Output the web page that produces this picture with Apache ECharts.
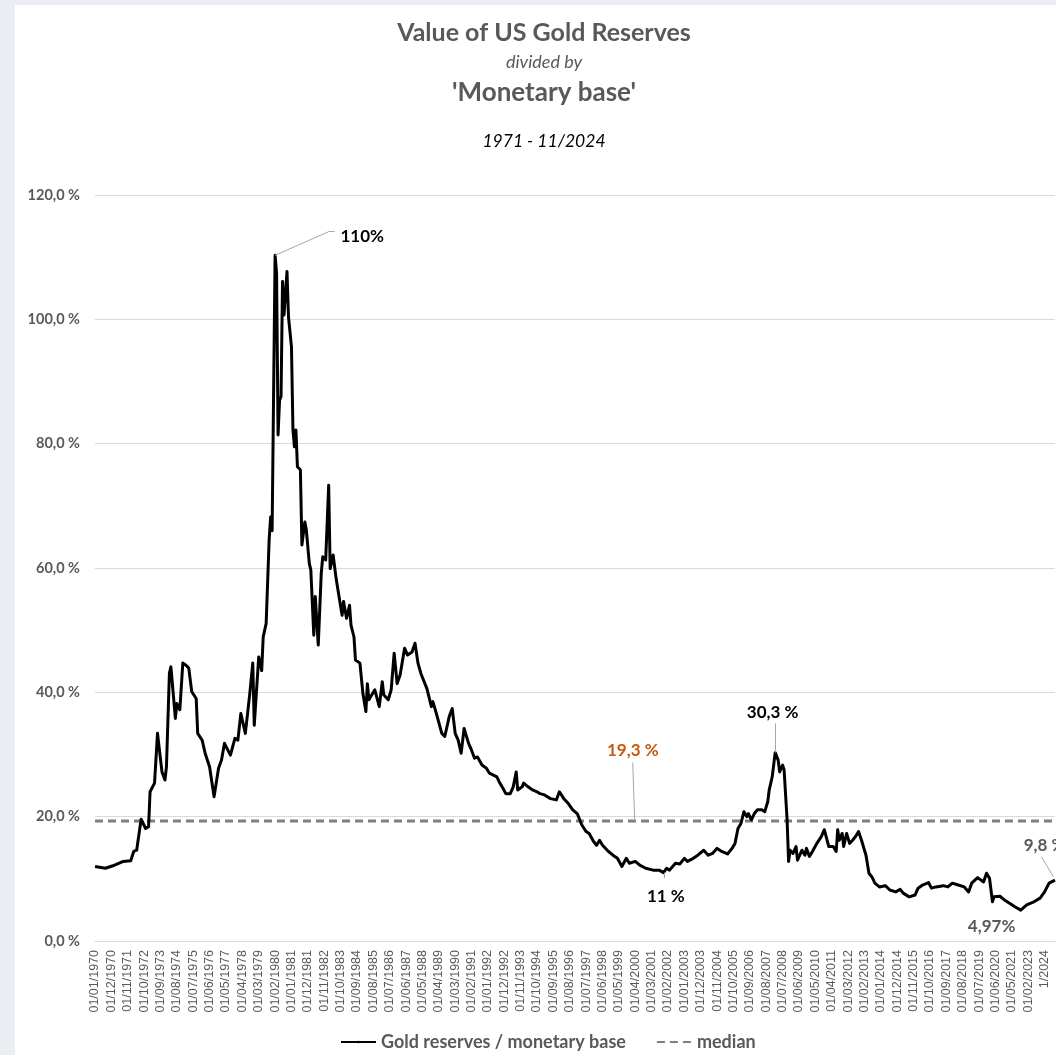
<!DOCTYPE html>
<html>
<head>
<meta charset="utf-8">
<script src="https://cdn.jsdelivr.net/npm/echarts@6/dist/echarts.min.js"></script>
<style>
  html, body { margin: 0; padding: 0; background: #eaeef2; }
  #panel { position: absolute; left: 15px; top: 5px; right: 0; bottom: 0; background: #ffffff; }
  #chart { position: absolute; left: 0; top: 0; width: 1056px; height: 1055px; }
</style>
</head>
<body>
<div id="panel"></div>
<div id="chart"></div>
<script>
// Tick labels (one every 11 data positions)
const xLabels = ["01/01/1970","01/12/1970","01/11/1971","01/10/1972","01/09/1973","01/08/1974","01/07/1975","01/06/1976","01/05/1977","01/04/1978","01/03/1979","01/02/1980","01/01/1981","01/12/1981","01/11/1982","01/10/1983","01/09/1984","01/08/1985","01/07/1986","01/06/1987","01/05/1988","01/04/1989","01/03/1990","01/02/1991","01/01/1992","01/12/1992","01/11/1993","01/10/1994","01/09/1995","01/08/1996","01/07/1997","01/06/1998","01/05/1999","01/04/2000","01/03/2001","01/02/2002","01/01/2003","01/12/2003","01/11/2004","01/10/2005","01/09/2006","01/08/2007","01/07/2008","01/06/2009","01/05/2010","01/04/2011","01/03/2012","01/02/2013","01/01/2014","01/12/2014","01/11/2015","01/10/2016","01/09/2017","01/08/2018","01/07/2019","01/06/2020","01/05/2021","01/02/2023","1/2024"];
const labelStep = 11;
const lastPos = 645;

// Gold reserves / monetary base (%), [position, value]
const goldRatio = [[0,12.0],[7,11.7],[12,12.1],[19,12.8],[24,12.9],[26,14.4],[28,14.6],[31,19.6],[34,18.1],[36,18.4],[37,24.0],[40,25.4],[42,33.4],[45,27.2],[47,25.9],[48,28.0],[50,43.1],[51,44.1],[54,35.8],[55,38.2],[57,37.2],[59,44.7],[61,44.4],[63,43.9],[65,40.1],[68,39.0],[69,33.4],[72,32.3],[74,30.2],[77,28.0],[80,23.2],[83,27.8],[85,29.1],[87,31.8],[91,29.9],[94,32.6],[96,32.3],[98,36.6],[101,33.4],[102,35.5],[104,39.8],[106,44.7],[107,34.7],[110,45.7],[112,43.5],[113,48.9],[115,51.1],[117,64.5],[118,68.2],[119,66.0],[121,110.3],[122,107.4],[123,81.4],[124,87.0],[125,87.6],[126,106.1],[127,100.7],[129,107.7],[130,100.4],[132,95.6],[133,82.2],[134,79.5],[135,82.2],[136,76.3],[138,75.8],[139,63.7],[141,67.4],[142,66.1],[144,60.7],[145,59.7],[147,49.2],[148,55.4],[150,47.6],[152,59.1],[153,61.8],[155,61.3],[157,73.3],[158,59.9],[160,62.1],[162,58.3],[163,58.1],[166,52.4],[167,54.6],[169,51.9],[171,54.0],[172,50.8],[174,48.9],[175,45.2],[178,44.7],[180,39.8],[182,36.9],[183,41.4],[184,38.8],[186,39.6],[188,40.4],[191,37.7],[193,41.7],[194,39.6],[197,38.8],[199,40.4],[201,46.3],[203,41.4],[205,42.8],[208,47.1],[210,46.0],[213,46.5],[215,47.9],[217,44.7],[219,43.0],[223,40.6],[226,37.7],[227,38.5],[229,36.9],[233,33.4],[235,32.9],[238,36.1],[240,37.4],[242,33.4],[244,32.3],[246,30.2],[248,34.2],[251,31.8],[253,30.7],[255,29.4],[257,29.6],[260,28.3],[263,27.8],[265,27.0],[270,26.4],[272,25.4],[274,24.6],[276,23.7],[279,23.7],[281,24.8],[283,27.2],[284,24.3],[287,24.8],[288,25.4],[291,24.8],[294,24.3],[297,24.0],[299,23.7],[302,23.5],[306,22.9],[310,22.7],[312,24.0],[315,22.9],[318,22.1],[321,21.1],[324,20.5],[327,18.7],[330,17.6],[332,17.3],[335,16.0],[337,15.4],[339,16.2],[341,15.4],[345,14.4],[348,13.8],[351,13.3],[354,12.0],[357,13.3],[359,12.5],[363,12.8],[366,12.2],[370,11.7],[375,11.4],[379,11.4],[382,11.0],[384,11.7],[386,11.4],[390,12.5],[393,12.4],[396,13.3],[398,12.8],[402,13.3],[405,13.8],[409,14.6],[412,13.8],[415,14.1],[418,14.9],[421,14.4],[425,14.0],[428,14.9],[430,15.7],[432,18.1],[434,18.9],[436,20.8],[438,20.0],[439,20.5],[441,19.5],[443,20.5],[445,21.1],[448,21.1],[450,20.8],[452,22.4],[453,24.3],[455,26.4],[457,30.3],[459,29.1],[460,27.2],[462,28.3],[463,27.5],[465,19.5],[466,12.8],[467,14.6],[469,14.1],[471,15.2],[472,13.0],[475,14.6],[477,13.8],[478,14.9],[480,13.6],[482,14.4],[485,15.7],[488,16.8],[490,17.9],[491,17.9],[493,15.2],[496,15.2],[498,14.4],[499,17.9],[500,16.2],[502,17.3],[503,15.2],[505,17.3],[507,15.7],[509,16.2],[511,16.8],[513,17.6],[515,16.2],[518,13.8],[520,10.9],[522,10.3],[524,9.3],[527,8.7],[531,8.9],[534,8.2],[538,7.9],[541,8.3],[543,7.7],[547,7.1],[551,7.4],[553,8.5],[556,9.0],[560,9.4],[562,8.5],[565,8.7],[570,8.9],[573,8.7],[576,9.3],[580,9.0],[584,8.7],[587,7.9],[589,9.3],[593,10.2],[597,9.5],[599,10.9],[601,10.1],[603,6.3],[604,7.1],[608,7.2],[611,6.6],[615,6.0],[618,5.5],[622,4.97],[626,5.8],[630,6.2],[635,6.9],[638,7.9],[641,9.3],[645,9.8]];

const medianValue = 19.3;

// Annotation texts and their anchor positions (data coordinates)
const annotTexts  = ["110%", "30,3 %", "19,3 %", "11 %", "4,97%", "9,8 %"];
const annotCoords = [[179.5,113.4],[455.3,36.8],[361.3,30.7],[383.5,7.2],[602.4,2.25],[638,15.4]];
const annotColors = ["#000000","#000000","#c55a11","#000000","#595959","#595959"];
// Leader lines [from, to] in data coordinates
const leaders = [
  [[121,110.3],[157,114.1]], [[157,114.1],[161,114.1]],
  [[457,30.3],[457,35.0]],
  [[361.3,28.7],[362.6,19.3]],
  [[382.5,11.0],[382.5,10.1]],
  [[636,13.5],[644,10.3]]
];

const FONT = 'Lato, "Open Sans", sans-serif';
const chart = echarts.init(document.getElementById('chart'), null, {renderer: 'canvas'});

chart.setOption({
  backgroundColor: 'transparent',
  animation: false,
  graphic: [
    {type: 'text', x: 544, y: 33, style: {text: 'Value of US Gold Reserves', font: 'bold 25px ' + FONT, fill: '#595959', textAlign: 'center', textVerticalAlign: 'middle'}},
    {type: 'text', x: 544, y: 62, style: {text: 'divided by', font: 'italic 18px ' + FONT, fill: '#595959', textAlign: 'center', textVerticalAlign: 'middle'}},
    {type: 'text', x: 544, y: 93, style: {text: "'Monetary base'", font: 'bold 26px ' + FONT, fill: '#595959', textAlign: 'center', textVerticalAlign: 'middle'}},
    {type: 'text', x: 544, y: 141, style: {text: '1971 - 11/2024', font: 'italic 17.5px ' + FONT, fill: '#000000', textAlign: 'center', textVerticalAlign: 'middle'}}
  ],
  grid: {left: 95, right: 1, top: 195, bottom: 114, containLabel: false},
  legend: {
    left: 335, top: 1028,
    itemWidth: 35, itemHeight: 3, itemGap: 30,
    textStyle: {fontFamily: FONT, fontWeight: 'bold', fontSize: 18, color: '#595959'},
    data: ['Gold reserves / monetary base', 'median']
  },
  xAxis: {
    type: 'value', min: 0, max: lastPos, interval: labelStep,
    axisLine: {show: true, lineStyle: {color: '#d9d9d9', width: 1}},
    axisTick: {show: false},
    splitLine: {show: false},
    axisLabel: {
      rotate: 90, margin: 9, fontSize: 12.5, color: '#595959', fontFamily: '"Liberation Sans", Arial, sans-serif',
      showMinLabel: true, showMaxLabel: false,
      formatter: function (v) { return (v % labelStep === 0 && xLabels[v / labelStep]) ? xLabels[v / labelStep] : ''; }
    }
  },
  yAxis: {
    type: 'value', min: 0, max: 120, interval: 20,
    axisLine: {show: false}, axisTick: {show: false},
    splitLine: {lineStyle: {color: '#d9d9d9', width: 1}},
    axisLabel: {
      margin: 15, fontSize: 14.5, fontWeight: 'bold', color: '#595959', fontFamily: FONT,
      formatter: function (v) { return v.toFixed(1).replace('.', ',') + ' %'; }
    }
  },
  series: [
    {
      name: 'median', type: 'line', symbol: 'none', z: 2,
      data: [[0, medianValue], [lastPos, medianValue]],
      lineStyle: {color: '#7f7f7f', width: 3, type: [8, 5]},
      itemStyle: {color: '#7f7f7f'}
    },
    {
      name: 'Gold reserves / monetary base', type: 'line', symbol: 'none', z: 3,
      data: goldRatio,
      lineStyle: {color: '#000000', width: 3, join: 'round'},
      itemStyle: {color: '#000000'},
      markLine: {
        silent: true, symbol: 'none', animation: false,
        lineStyle: {color: '#a6a6a6', width: 1, type: 'solid'},
        label: {show: false},
        data: leaders.map(function (l) { return [{coord: l[0]}, {coord: l[1]}]; })
      },
      markPoint: {
        silent: true, animation: false,
        symbol: 'circle', symbolSize: 1, itemStyle: {color: 'rgba(0,0,0,0)'},
        data: annotTexts.map(function (t, i) {
          return {
            coord: annotCoords[i],
            label: {show: true, position: 'inside', formatter: t, color: annotColors[i],
                    fontFamily: FONT, fontWeight: 'bold', fontSize: 17}
          };
        })
      }
    }
  ]
});
</script>
</body>
</html>
